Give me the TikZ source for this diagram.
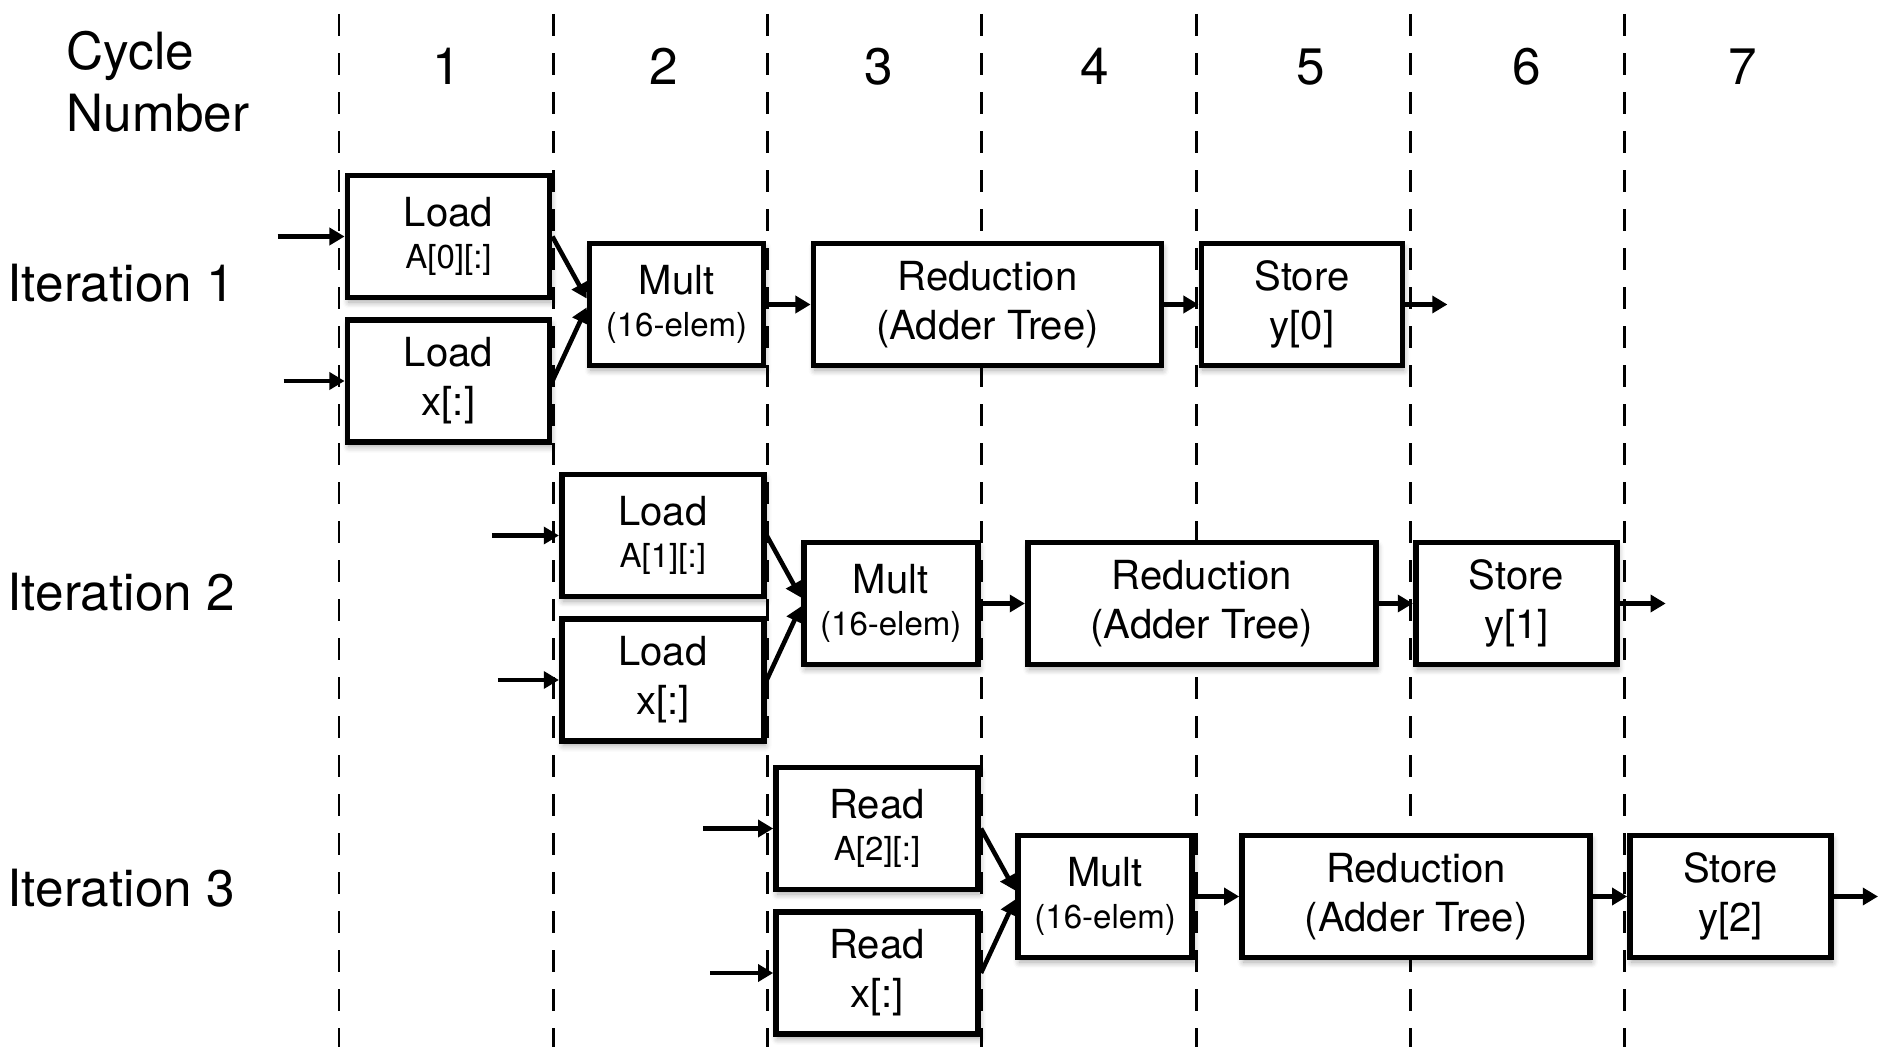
\documentclass[tikz,border=0pt]{standalone}
\usepackage{fontspec}
\setmainfont{TeX Gyre Heros}
\usetikzlibrary{arrows.meta, positioning, calc, shadows.blur}

\newcommand{\subtxt}{\fontsize{9.4}{11}\selectfont}

\begin{document}
\begin{tikzpicture}[
    every node/.style={font=\fontsize{11.4}{13.9}\selectfont},
    cycline/.style={line width=0.85pt, dash pattern=on 6.3pt off 4.8pt},
    stage/.style={draw, line width=1.65pt, fill=white, align=center, inner sep=0pt,
        minimum height=1.22cm,
        blur shadow={shadow xshift=0.4pt, shadow yshift=-1.3pt,
            shadow blur radius=1.8pt, shadow blur steps=6, shadow opacity=35}},
    loadbox/.style={stage, minimum width=2.02cm},
    multbox/.style={stage, minimum width=1.74cm},
    redbox/.style={stage, minimum width=3.48cm},
    storebox/.style={stage, minimum width=2.01cm},
    arr/.style={-{Triangle[length=4.3pt,width=4.8pt]}, line width=1.3pt},
    big/.style={font=\fontsize{14.6}{17.6}\selectfont, inner sep=0pt},
]
\useasboundingbox (0,0) rectangle (18.78,10.47);

% Cycle boundaries (drawn first, boxes cover them)
\draw[cycline] (3.39,10.33) -- (3.39,0);
\draw[cycline] (5.533,10.33) -- (5.533,0);
\draw[cycline] (7.676,10.33) -- (7.676,0);
\draw[cycline] (9.819,10.33) -- (9.819,0);
\draw[cycline] (11.962,10.33) -- (11.962,0);
\draw[cycline] (14.105,10.33) -- (14.105,0);
\draw[cycline] (16.248,10.33) -- (16.248,0);

% Header
\node[big, anchor=west, align=left] (hdr) at (0.66,9.65) {Cycle\\Number};
\node[big, anchor=base] (c1) at (4.47,9.62) {1};
\node[big, anchor=base] (c2) at (6.635,9.62) {2};
\node[big, anchor=base] (c3) at (8.79,9.62) {3};
\node[big, anchor=base] (c4) at (10.95,9.62) {4};
\node[big, anchor=base] (c5) at (13.11,9.62) {5};
\node[big, anchor=base] (c6) at (15.27,9.62) {6};
\node[big, anchor=base] (c7) at (17.43,9.62) {7};

% Row labels
\node[big, anchor=base west] (it1) at (0.07,7.45) {Iteration 1};
\node[big, anchor=base west] (it2) at (0.07,4.37) {Iteration 2};
\node[big, anchor=base west] (it3) at (0.07,1.405) {Iteration 3};

% Iteration 1
\node[loadbox] (la1) at (4.485,8.105) {Load\\[-2pt]{\subtxt A[0][:]}};
\node[loadbox] (lx1) at (4.485,6.66) {Load\\x[:]};
\node[multbox] (mu1) at (6.765,7.425) {Mult\\[-2pt]{\subtxt (16-elem)}};
\node[redbox] (rd1) at (9.875,7.425) {Reduction\\(Adder Tree)};
\node[storebox] (st1) at (13.02,7.425) {Store\\y[0]};

% Iteration 2
\node[loadbox] (la2) at (6.628,5.115) {Load\\[-2pt]{\subtxt A[1][:]}};
\node[loadbox] (lx2) at (6.628,3.67) {Load\\x[:]};
\node[multbox] (mu2) at (8.908,4.435) {Mult\\[-2pt]{\subtxt (16-elem)}};
\node[redbox] (rd2) at (12.018,4.435) {Reduction\\(Adder Tree)};
\node[storebox] (st2) at (15.163,4.435) {Store\\y[1]};

% Iteration 3
\node[loadbox] (ra3) at (8.771,2.185) {Read\\[-2pt]{\subtxt A[2][:]}};
\node[loadbox] (rx3) at (8.771,0.74) {Read\\x[:]};
\node[multbox] (mu3) at (11.051,1.505) {Mult\\[-2pt]{\subtxt (16-elem)}};
\node[redbox] (rd3) at (14.161,1.505) {Reduction\\(Adder Tree)};
\node[storebox] (st3) at (17.306,1.505) {Store\\y[2]};

% Free ends of the in/out arrows
\coordinate (inA1) at ($(la1.west)+(-0.67,0)$);
\coordinate (inx1) at ($(lx1.west)+(-0.61,0)$);
\coordinate (inA2) at ($(la2.west)+(-0.67,0)$);
\coordinate (inx2) at ($(lx2.west)+(-0.61,0)$);
\coordinate (inA3) at ($(ra3.west)+(-0.70,0)$);
\coordinate (inx3) at ($(rx3.west)+(-0.63,0)$);
\coordinate (out1) at ($(st1.east)+(0.42,0)$);
\coordinate (out2) at ($(st2.east)+(0.46,0)$);
\coordinate (out3) at ($(st3.east)+(0.44,0)$);

% Connectors
\draw[arr] (inA1) -- (la1.west);
\draw[arr] (inx1) -- (lx1.west);
\draw[arr] (la1.east) -- ($(mu1.west)+(0,0.06)$);
\draw[arr] (lx1.east) -- ($(mu1.west)+(0,-0.03)$);
\draw[arr] (mu1) -- (rd1);
\draw[arr] (rd1) -- (st1);
\draw[arr] (st1) -- (out1);

\draw[arr] (inA2) -- (la2.west);
\draw[arr] (inx2) -- (lx2.west);
\draw[arr] (la2.east) -- ($(mu2.west)+(0,0.06)$);
\draw[arr] (lx2.east) -- ($(mu2.west)+(0,-0.03)$);
\draw[arr] (mu2) -- (rd2);
\draw[arr] (rd2) -- (st2);
\draw[arr] (st2) -- (out2);

\draw[arr] (inA3) -- (ra3.west);
\draw[arr] (inx3) -- (rx3.west);
\draw[arr] (ra3.east) -- ($(mu3.west)+(0,0.06)$);
\draw[arr] (rx3.east) -- ($(mu3.west)+(0,-0.03)$);
\draw[arr] (mu3) -- (rd3);
\draw[arr] (rd3) -- (st3);
\draw[arr] (st3) -- (out3);
\end{tikzpicture}
\end{document}
